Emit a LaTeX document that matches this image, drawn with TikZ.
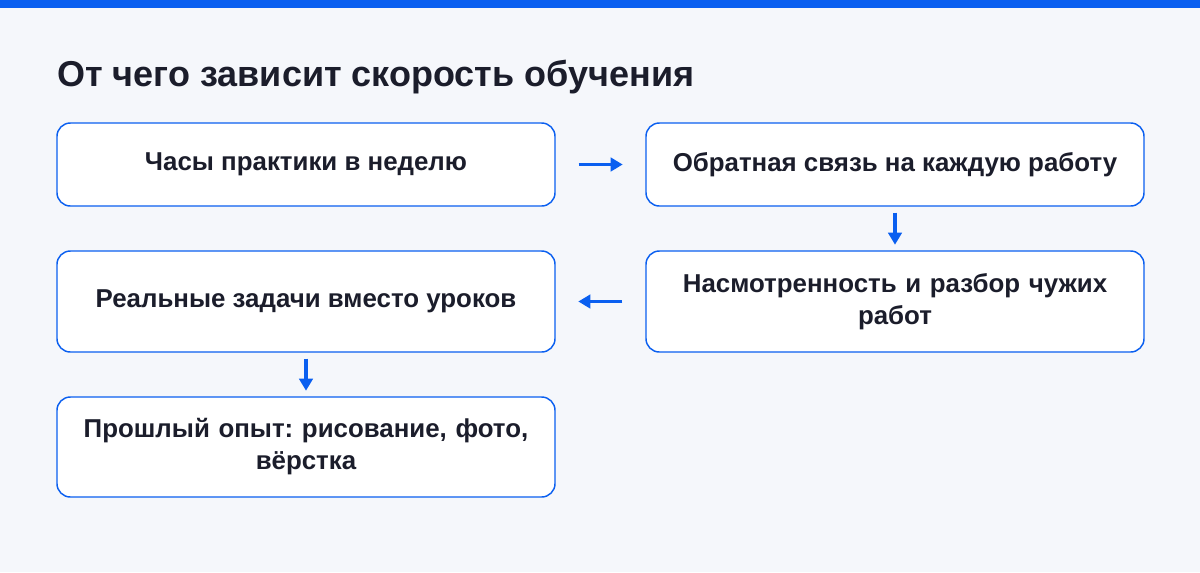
\documentclass[tikz,border=0pt]{standalone}
\usepackage{fontspec}
\setmainfont{Liberation Sans}
\usetikzlibrary{arrows.meta}
\definecolor{bg}{HTML}{F5F7FB}
\definecolor{acc}{HTML}{0A5FF0}
\definecolor{ink}{HTML}{1B1D2B}
\begin{document}
\frenchspacing
\begin{tikzpicture}[x=0.75pt,y=-0.75pt,
 box/.style={draw=acc,line width=1.1pt,fill=white,rounded corners=10pt,text=ink,font=\fontsize{19.4}{24}\selectfont\bfseries,align=center},
 arr/.style={draw=acc,line width=2.4pt,-{Triangle[length=9pt,width=10pt]}}]
\fill[bg] (0,0) rectangle (1200,572);
\useasboundingbox (0,0) rectangle (1200,572);
\fill[acc] (0,0) rectangle (1200,8);
\node[anchor=west,inner sep=0pt,text=ink,font=\fontsize{27}{32}\selectfont\bfseries] (title) at (57,77) {От чего зависит скорость обучения};
\node[box,minimum width=498*0.75pt,minimum height=83*0.75pt] (a) at (306,164.5) {Часы практики в неделю};
\node[box,minimum width=498*0.75pt,minimum height=83*0.75pt] (b) at (895,164.5) {Обратная связь на каждую работу};
\node[box,minimum width=498*0.75pt,minimum height=101*0.75pt,text width=470*0.75pt] (c) at (895,301.5) {Насмотренность и разбор чужих\\работ};
\node[box,minimum width=498*0.75pt,minimum height=101*0.75pt] (d) at (306,301.5) {Реальные задачи вместо уроков};
\node[box,minimum width=498*0.75pt,minimum height=100*0.75pt,text width=470*0.75pt] (e) at (306,447) {Прошлый опыт: рисование, фото,\\вёрстка};
\draw[arr] (a.east)++(23,0) -- ++(44,0);
\draw[arr] (b.south)++(0,6) -- ++(0,32);
\draw[arr] (c.west)++(-23,0) -- ++(-44,0);
\draw[arr] (d.south)++(0,6) -- ++(0,32);
\end{tikzpicture}
\end{document}
